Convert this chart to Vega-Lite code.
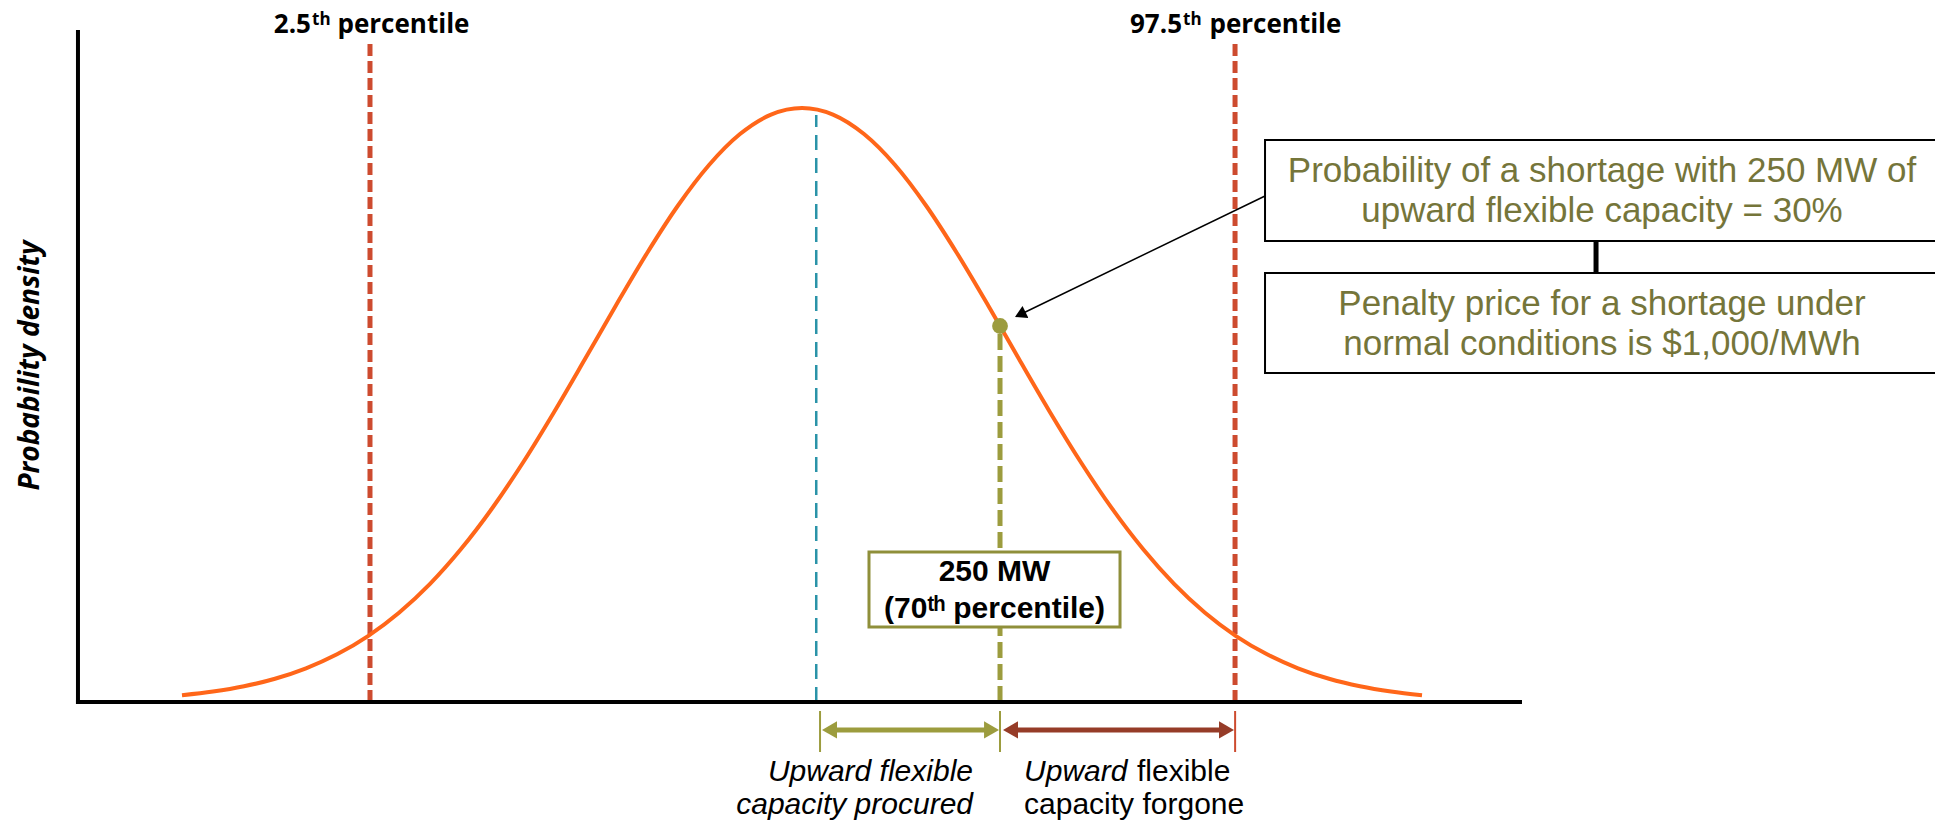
{
  "$schema": "https://vega.github.io/schema/vega-lite/v6.json",
  "width": 1935,
  "height": 825,
  "autosize": {"type": "fit", "contains": "padding"},
  "padding": 0,
  "background": "white",
  "config": {"view": {"stroke": null}},
  "datasets": {
    "curve": [
      {"x": -849.5, "y": 0.0113}, {"x": -807.8, "y": 0.0175}, {"x": -766.1, "y": 0.0264}, {"x": -724.5, "y": 0.0391},
      {"x": -682.8, "y": 0.0567}, {"x": -641.1, "y": 0.0802}, {"x": -599.5, "y": 0.111}, {"x": -557.8, "y": 0.1503},
      {"x": -516.1, "y": 0.1989}, {"x": -474.5, "y": 0.2575}, {"x": -432.8, "y": 0.3258}, {"x": -391.1, "y": 0.4032},
      {"x": -349.5, "y": 0.4879}, {"x": -307.8, "y": 0.5773}, {"x": -266.1, "y": 0.6679}, {"x": -224.5, "y": 0.7555},
      {"x": -182.8, "y": 0.8358}, {"x": -141.1, "y": 0.904}, {"x": -99.5, "y": 0.9561}, {"x": -57.8, "y": 0.9889},
      {"x": -16.1, "y": 1.0}, {"x": 25.5, "y": 0.9889}, {"x": 67.2, "y": 0.9561}, {"x": 108.9, "y": 0.904},
      {"x": 150.5, "y": 0.8358}, {"x": 192.2, "y": 0.7555}, {"x": 233.9, "y": 0.6679}, {"x": 275.5, "y": 0.5773},
      {"x": 317.2, "y": 0.4879}, {"x": 358.9, "y": 0.4032}, {"x": 400.5, "y": 0.3258}, {"x": 442.2, "y": 0.2575},
      {"x": 483.9, "y": 0.1989}, {"x": 525.5, "y": 0.1503}, {"x": 567.2, "y": 0.111}, {"x": 608.9, "y": 0.0802},
      {"x": 650.5, "y": 0.0567}, {"x": 692.2, "y": 0.0391}, {"x": 733.9, "y": 0.0264}, {"x": 775.5, "y": 0.0175},
      {"x": 817.2, "y": 0.0113}
    ],
    "redDash": [{"x": -596.8, "y": 0, "y2": 1.1145}, {"x": 565.9, "y": 0, "y2": 1.1145}],
    "cyanDash": [{"x": 3, "y": 0, "y2": 0.9882}],
    "greenDash": [{"x": 250, "y": 0, "y2": 0.633}],
    "axes": [{"x": -989.3, "y": 0, "x2": -989.3, "y2": 1.1279}, {"x": -989.3, "y": 0, "x2": 948.9, "y2": 0}],
    "pctMain": [{"x": -676.1, "y": 1.1263, "label": "2.5"}, {"x": 494.6, "y": 1.1263, "label": "97.5"}],
    "pctSup": [{"x": -674.7, "y": 1.1397, "label": "th"}, {"x": 496.0, "y": 1.1397, "label": "th"}],
    "pctWord": [{"x": -640.5, "y": 1.1263, "label": "percentile"}, {"x": 531.5, "y": 1.1263, "label": "percentile"}],
    "yTitle": [{"x": -1052.5, "y": 0.5665, "label": "Probability density"}],
    "mwBox": [{"x": 73.9, "x2": 411.3, "y": 0.2525, "y2": 0.1263}],
    "mwText": [{"x": 242.6, "y": 0.2037, "label": "250 MW"}, {"x": 242.6, "y": 0.1414, "label": "(70ᵗʰ percentile)"}],
    "point70": [{"x": 250, "y": 0.633}],
    "calloutLine": [{"x": 606.2, "y": 0.8519, "x2": 277.2, "y2": 0.6524}],
    "calloutHead": [{"x": 277.2, "y": 0.6524}],
    "infoBoxes": [{"x": 606.2, "x2": 1600, "y": 0.9461, "y2": 0.7761}, {"x": 606.2, "x2": 1600, "y": 0.7222, "y2": 0.5539}],
    "connector": [{"x": 1051.1, "y": 0.7761, "y2": 0.7222}],
    "infoText": [
      {"x": 1059.1, "y": 0.8754, "label": "Probability of a shortage with 250 MW of"},
      {"x": 1059.1, "y": 0.8081, "label": "upward flexible capacity = 30%"},
      {"x": 1059.1, "y": 0.6515, "label": "Penalty price for a shortage under"},
      {"x": 1059.1, "y": 0.5842, "label": "normal conditions is $1,000/MWh"}
    ],
    "procuredShaft": [{"x": 21.5, "x2": 239.3, "y": -0.0471}],
    "procuredHeads": [{"x": 20.8, "y": -0.0471, "dir": "triangle-left"}, {"x": 238.6, "y": -0.0471, "dir": "triangle-right"}],
    "forgoneShaft": [{"x": 263.4, "x2": 556.4, "y": -0.0471}],
    "forgoneHeads": [{"x": 264.1, "y": -0.0471, "dir": "triangle-left"}, {"x": 554.4, "y": -0.0471, "dir": "triangle-right"}],
    "procuredTicks": [{"x": 8.1, "y": -0.01515, "y2": -0.0842}, {"x": 250, "y": -0.01515, "y2": -0.0842}],
    "forgoneTicks": [{"x": 566, "y": -0.01515, "y2": -0.0842}],
    "bottomItalicRight": [{"x": 213.7, "y": -0.1330, "label": "Upward flexible"}, {"x": 213.7, "y": -0.1886, "label": "capacity procured"}],
    "bottomItalicLeft": [{"x": 282.3, "y": -0.1330, "label": "Upward"}],
    "bottomPlain": [{"x": 434.1, "y": -0.1330, "label": "flexible"}, {"x": 282.3, "y": -0.1886, "label": "capacity forgone"}]
  },
  "encoding": {
    "x": {"field": "x", "type": "quantitative", "scale": {"domain": [-1094.1, 1506.7], "nice": false, "zero": false}, "axis": null},
    "y": {"field": "y", "type": "quantitative", "scale": {"domain": [-0.2071, 1.1818], "nice": false, "zero": false}, "axis": null}
  },
  "layer": [
    {"data": {"name": "redDash"}, "mark": {"type": "rule", "color": "#cd4b2f", "strokeWidth": 5, "strokeDash": [12, 5]}, "encoding": {"y2": {"field": "y2"}}},
    {"data": {"name": "cyanDash"}, "mark": {"type": "rule", "color": "#2a93a8", "strokeWidth": 2.5, "strokeDash": [15, 8]}, "encoding": {"y2": {"field": "y2"}}},
    {"data": {"name": "greenDash"}, "mark": {"type": "rule", "color": "#9c9c3e", "strokeWidth": 5, "strokeDash": [16, 6]}, "encoding": {"y2": {"field": "y2"}}},
    {"data": {"name": "curve"}, "mark": {"type": "line", "color": "#ff6619", "strokeWidth": 4, "interpolate": "monotone"}},
    {"data": {"name": "axes"}, "mark": {"type": "rule", "color": "black", "strokeWidth": 4, "strokeCap": "square"}, "encoding": {"x2": {"field": "x2"}, "y2": {"field": "y2"}}},
    {"data": {"name": "mwBox"}, "mark": {"type": "rect", "fill": "white", "stroke": "#8f8f3a", "strokeWidth": 3}, "encoding": {"x2": {"field": "x2"}, "y2": {"field": "y2"}}},
    {"data": {"name": "mwText"}, "mark": {"type": "text", "font": "Liberation Sans", "fontWeight": "bold", "fontSize": 30, "color": "black", "align": "center", "baseline": "alphabetic"}, "encoding": {"text": {"field": "label"}}},
    {"data": {"name": "point70"}, "mark": {"type": "point", "shape": "circle", "filled": true, "size": 250, "color": "#9c9c3e", "opacity": 1}},
    {"data": {"name": "calloutLine"}, "mark": {"type": "rule", "color": "black", "strokeWidth": 1.5}, "encoding": {"x2": {"field": "x2"}, "y2": {"field": "y2"}}},
    {"data": {"name": "calloutHead"}, "mark": {"type": "point", "shape": "triangle-up", "filled": true, "size": 180, "angle": 244, "color": "black", "opacity": 1}},
    {"data": {"name": "infoBoxes"}, "mark": {"type": "rect", "fill": "white", "stroke": "black", "strokeWidth": 2, "clip": true}, "encoding": {"x2": {"field": "x2"}, "y2": {"field": "y2"}}},
    {"data": {"name": "connector"}, "mark": {"type": "rule", "color": "black", "strokeWidth": 5}, "encoding": {"y2": {"field": "y2"}}},
    {"data": {"name": "infoText"}, "mark": {"type": "text", "font": "Liberation Sans", "fontSize": 35, "color": "#75753a", "align": "center", "baseline": "alphabetic"}, "encoding": {"text": {"field": "label"}}},
    {"data": {"name": "pctMain"}, "mark": {"type": "text", "font": "Open Sans", "fontWeight": "bold", "fontSize": 26, "color": "black", "align": "right", "baseline": "alphabetic"}, "encoding": {"text": {"field": "label"}}},
    {"data": {"name": "pctSup"}, "mark": {"type": "text", "font": "Open Sans", "fontWeight": "bold", "fontSize": 17, "color": "black", "align": "left", "baseline": "alphabetic"}, "encoding": {"text": {"field": "label"}}},
    {"data": {"name": "pctWord"}, "mark": {"type": "text", "font": "Open Sans", "fontWeight": "bold", "fontSize": 26, "color": "black", "align": "left", "baseline": "alphabetic"}, "encoding": {"text": {"field": "label"}}},
    {"data": {"name": "yTitle"}, "mark": {"type": "text", "font": "Open Sans", "fontWeight": "bold", "fontStyle": "italic", "fontSize": 28, "color": "black", "align": "center", "baseline": "middle", "angle": 270}, "encoding": {"text": {"field": "label"}}},
    {"data": {"name": "procuredTicks"}, "mark": {"type": "rule", "color": "#9c9c3e", "strokeWidth": 2}, "encoding": {"y2": {"field": "y2"}}},
    {"data": {"name": "forgoneTicks"}, "mark": {"type": "rule", "color": "#cd4b2f", "strokeWidth": 2}, "encoding": {"y2": {"field": "y2"}}},
    {"data": {"name": "procuredShaft"}, "mark": {"type": "rule", "color": "#9c9c3e", "strokeWidth": 5}, "encoding": {"x2": {"field": "x2"}}},
    {"data": {"name": "procuredHeads"}, "mark": {"type": "point", "filled": true, "size": 300, "color": "#9c9c3e", "opacity": 1}, "encoding": {"shape": {"field": "dir", "type": "nominal", "scale": null}}},
    {"data": {"name": "forgoneShaft"}, "mark": {"type": "rule", "color": "#963c28", "strokeWidth": 5}, "encoding": {"x2": {"field": "x2"}}},
    {"data": {"name": "forgoneHeads"}, "mark": {"type": "point", "filled": true, "size": 300, "color": "#963c28", "opacity": 1}, "encoding": {"shape": {"field": "dir", "type": "nominal", "scale": null}}},
    {"data": {"name": "bottomItalicRight"}, "mark": {"type": "text", "font": "Liberation Sans", "fontStyle": "italic", "fontSize": 30, "color": "black", "align": "right", "baseline": "alphabetic"}, "encoding": {"text": {"field": "label"}}},
    {"data": {"name": "bottomItalicLeft"}, "mark": {"type": "text", "font": "Liberation Sans", "fontStyle": "italic", "fontSize": 30, "color": "black", "align": "left", "baseline": "alphabetic"}, "encoding": {"text": {"field": "label"}}},
    {"data": {"name": "bottomPlain"}, "mark": {"type": "text", "font": "Liberation Sans", "fontSize": 30, "color": "black", "align": "left", "baseline": "alphabetic"}, "encoding": {"text": {"field": "label"}}}
  ]
}
